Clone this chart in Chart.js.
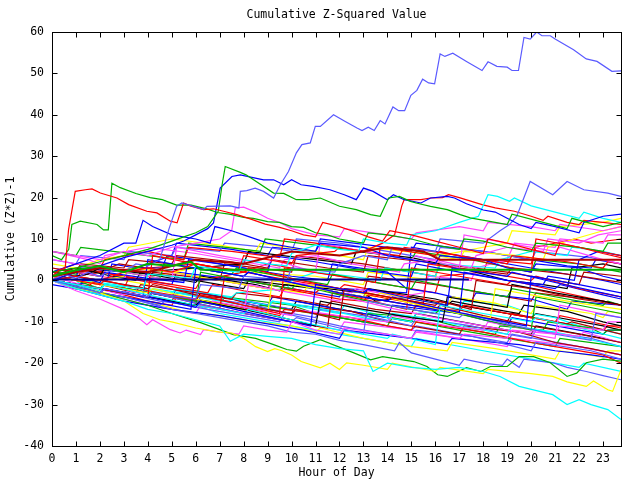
<!DOCTYPE html>
<html><head><meta charset="utf-8">
<script src="https://cdn.jsdelivr.net/npm/chart.js@4"></script>
<style>html,body{margin:0;padding:0;background:#fff}#c{display:block}</style>
</head><body>
<canvas id="c" width="640" height="480"></canvas>
<script>
const titleText = "Cumulative Z-Squared Value";
const xTitle = "Hour of Day";
const yTitle = "Cumulative (Z*Z)-1";
const xTicks = {min: 0, max: 23.75, step: 1};
const yTicks = {min: -40, max: 60, step: 10};

// traced series: [hour, value]
const p1 = [[0,0],[0.5,1.5],[1,0.5],[1.5,2],[2,1],[2.5,2.5],[3,2],[3.5,4],[4,3.5],[4.5,5],[4.87,12.2],[5.2,17.9],[5.42,18.7],[6.33,17.1],[6.47,17.9],[7.44,18],[7.8,17.5],[7.86,21.5],[8.13,21.7],[8.48,22.3],[8.83,21.5],[9.25,19.9],[9.53,23.1],[9.87,26.3],[10.2,30.8],[10.43,32.8],[10.78,33.2],[10.99,37.2],[11.2,37.2],[11.75,40],[12.24,38.4],[12.73,36.8],[12.94,36.2],[13.2,37],[13.45,36.2],[13.7,38.6],[13.9,37.8],[14.23,41.9],[14.47,41],[14.72,41],[14.98,44.7],[15.23,45.9],[15.47,48.6],[15.72,47.7],[15.97,47.5],[16.2,54.7],[16.4,54.1],[16.73,54.9],[17.3,52.9],[17.95,50.7],[18.2,52.8],[18.57,51.7],[19,51.5],[19.2,50.7],[19.47,50.7],[19.7,58.7],[19.96,58.3],[20.23,60],[20.45,59.1],[20.8,59.1],[21,58.3],[21.77,55.7],[22.3,53.5],[22.75,52.9],[23.37,50.5],[23.75,50.6]];
const p2 = [[0,1],[0.3,2.5],[0.55,3],[0.69,12.2],[0.97,21.5],[1.39,21.9],[1.67,22.1],[2.02,21.1],[2.71,19.9],[3.2,18.3],[3.96,16.7],[4.38,16.3],[4.94,14.3],[5.22,13.9],[5.49,18.7],[5.77,18],[6.33,17.1],[6.74,17.3],[7.16,16.7],[7.72,15.9],[8.3,14.8],[8.9,13.6],[9.5,12.8],[10,12],[10.5,11],[11,10.5],[11.3,14],[12,13],[12.6,11.8],[13.2,10.5],[13.8,9.5],[14.1,12],[15,11],[16,9.5],[17,8],[18,6.5],[18.2,10],[19,9],[20,7.5],[21,6],[21.2,9],[22,8],[23,6.5],[23.75,5.5]];
const p3 = [[0,6],[0.4,5],[0.7,7.5],[0.83,13.5],[1.18,14.3],[1.88,13.5],[2.15,12.2],[2.35,12.2],[2.5,23.5],[2.85,22.4],[3.5,21],[4.1,20],[4.6,19.5],[5.2,18.2],[5.8,18.2],[6.5,17.2],[6.9,16.4],[7.4,16],[8,15.2],[8.4,15],[9,14.2],[9.5,14],[10,13],[10.5,12.8],[11,11.5],[11.5,11],[12,10],[12.5,9.5],[13,9],[13.2,11.5],[14,11],[15,10],[16,8.5],[17,7.5],[17.2,10],[18,9.5],[19,8],[20,7],[20.2,9],[22,8],[23,7],[23.2,9],[23.75,9]];
const p4 = [[0,2],[1,3],[2,4.5],[3,6],[4,7.5],[5,9.5],[5.5,10.5],[6,11.5],[6.5,13],[6.94,16.7],[7.1,23.1],[7.23,27.5],[7.86,26.1],[8.1,25.5],[9.25,21.1],[9.67,21],[10.2,19.5],[10.7,19.5],[11.2,19.9],[12,17.9],[12.7,17.1],[13.3,15.9],[13.7,15.5],[14.05,19.9],[14.5,20.3],[14.96,19.1],[15.2,18.7],[15.8,17.9],[16.5,17.1],[17.04,15.9],[17.46,15.1],[18.5,14],[19,13.5],[19.2,16],[20.5,14],[21.5,12.5],[21.7,15],[23,13],[23.75,14]];
const p5 = [[0,0],[1,2],[2,3.5],[3,5.5],[4,7],[5,8.5],[5.5,9.5],[6,11],[6.5,12.5],[6.74,13.9],[7.02,22.3],[7.51,25.1],[7.86,25.5],[8.83,24.3],[9.25,24.3],[9.67,23.1],[10,24.3],[10.4,23.1],[10.9,22.7],[11.6,21.9],[12.2,20.7],[12.7,19.5],[13,22.3],[13.4,21.5],[14,19.5],[14.25,20.7],[14.7,19.5],[15.4,18.7],[15.8,19.9],[16.5,20.3],[16.8,19.9],[17.3,18.5],[18,17],[18.5,16.5],[19,15],[19.5,13.5],[20,12.5],[20.2,14],[21,13],[22,11.5],[22.2,14],[23,15.5],[23.75,16]];
const p6 = [[0,0],[1,-1.5],[2,-3],[2.2,-2],[4,-4],[4.2,-3],[6,-4.5],[6.2,-1],[7.8,-2],[8,1],[9.8,0],[10,3],[11.8,2],[12,4],[13,6],[14,5],[14.2,8],[16,7],[16.2,10],[18,9],[18.7,12],[19.1,13.5],[19.4,15.5],[19.96,23.9],[20.9,20.7],[21.5,23.9],[22.2,21.9],[23.2,21.1],[23.75,20.3]];
const p7 = [[0,0],[1,-1],[2,-2.5],[2.2,-1],[3.8,-2],[4,1.5],[5,1],[5.8,0.5],[6,3.5],[7,2.5],[7.8,2],[8,5],[9,4],[9.8,3.5],[10,6.5],[11,8.5],[12,7.5],[12.8,7],[13,10],[14,9],[14.8,8.5],[15,11],[16,12],[17,14],[17.8,15.5],[18.2,20.7],[18.6,20.3],[19.1,19.1],[19.3,19.9],[20,18],[21,16.5],[22,15],[22.2,16.5],[23,15],[23.75,14]];
const p8 = [[0,0],[1,1],[2,0],[3,2],[4,3],[5,2],[6,4],[7,3],[7.8,2.5],[8,6],[9,5],[10,4],[10.2,6],[11.8,7],[12,8],[13,7],[13.8,9],[14.3,11],[14.6,18],[14.7,19.5],[15.4,19.5],[15.8,19.9],[16.3,20],[16.55,20.7],[17,20],[17.95,18.3],[18.5,17.5],[19.3,16.7],[20,15.5],[20.5,14.5],[20.7,15.5],[21.5,14],[22,13.5],[22.2,14.5],[23,14],[23.75,13.5]];
const p9 = [[0,2],[1,4],[2,6],[3,9],[3.5,9],[3.8,14.5],[4.2,13],[5,11],[6,10],[6.6,9],[6.8,13],[7.5,12],[8,11],[9,9],[10,8],[11,7],[11.2,9],[13,8],[14,6],[15,5],[16,4],[16.2,6],[18,5],[19,3],[20,2],[20.2,4],[22,3],[23,1],[23.75,0]];
const p10 = [[0,7],[1,6],[2,5],[3,7],[4,6],[5,8],[6,9],[7,10],[7.5,12],[7.65,17.5],[8,17.7],[8.5,16.5],[9,15],[9.5,14],[10,12.5],[11,11],[12,10.5],[12.2,12.5],[14,11],[15,10],[15.2,11.5],[17,13],[18,12],[18.2,14],[20,13],[21,12],[21.2,13.5],[23,12],[23.75,13]];
const p11 = [[0,0],[1,-2],[2,-3.5],[3,-5],[4,-7],[5,-8],[6,-9.5],[7,-11],[7.44,-14.7],[8,-13],[9,-13.5],[10,-14],[11,-15.5],[12,-16.5],[13,-17],[13.4,-22],[14,-20],[15,-21],[16,-21.5],[17,-21],[18,-22],[18.7,-23.2],[19.5,-25.6],[20.9,-27.6],[21.5,-30],[22,-28.8],[22.5,-30],[23.2,-31.2],[23.75,-33.6]];
const p12 = [[0,0],[1,-2],[2,-3],[3,-5],[3.8,-8],[4.5,-9.5],[5,-10],[6,-11.5],[7,-12.5],[7.5,-12.7],[8,-14],[8.5,-16],[9,-17.2],[9.3,-16.5],[9.6,-17],[10,-18],[10.4,-19.6],[11.2,-21.1],[11.6,-20],[12,-21.5],[12.3,-19.9],[13,-20.5],[14,-21.5],[14.2,-20],[16,-22],[16.2,-21],[18,-22.5],[18.2,-21.5],[20,-22.5],[20.9,-23.2],[21.5,-24.5],[22.3,-25.6],[22.6,-24.3],[23.2,-26.4],[23.4,-26.8],[23.75,-21.6]];
const p13 = [[0,0],[1,-1.5],[2,-3],[3,-4.5],[4,-6],[5,-8],[6.2,-10.2],[7.57,-13.1],[8.5,-14],[9.25,-15.5],[9.8,-16.7],[10.2,-17.1],[10.5,-15.9],[11.2,-14.3],[12.6,-17.5],[13.3,-19.2],[13.8,-18.4],[15.1,-19.6],[15.65,-20.8],[16.1,-22.8],[16.5,-23.2],[17.3,-21.1],[17.9,-22],[18.3,-20.8],[19,-20.8],[19.5,-18.4],[20.1,-18.4],[20.8,-19.9],[21.5,-23.2],[21.9,-22.4],[22.3,-19.9],[23,-19],[23.75,-19.5]];
const p14 = [[0,0],[1,-2.5],[2,-4.5],[3,-7],[3.6,-9],[3.96,-10.7],[4.2,-9.5],[4.94,-11.9],[5.35,-12.7],[5.6,-12],[6.2,-13.1],[6.33,-11.9],[7,-12.5],[7.8,-13],[8,-11],[9,-12],[9.8,-12.5],[10,-10],[11,-12],[12,-13],[12.2,-11.5],[14,-13],[15,-14],[15.2,-12.5],[17,-14],[17.2,-13],[19,-14],[19.2,-12],[21,-13],[21.2,-11],[23,-12],[23.2,-10],[23.75,-10]];
const p15 = [[0,0],[1,-1],[2,-3],[3,-4],[4,-5.5],[5,-7],[6,-8],[7,-9],[8,-10],[9,-11],[10,-12.5],[11,-13],[12,-14.5],[13,-15.5],[14.3,-17],[14.5,-15],[15,-17.5],[16,-19],[17,-20.5],[17.2,-19],[18,-20],[18.8,-20.5],[19,-19],[19.5,-21],[19.7,-19],[20.9,-19.9],[21.5,-21],[22.3,-22],[23,-23],[23.75,-24]];
const flatGreen = [[0,1],[1,2.5],[2,3.5],[3,2],[4,4],[5,3.5],[5.8,4.5],[6.2,2.6],[23.75,2.6]];
const flatNavy = [[0,0.2],[17.4,0.2]];
const flatDarkRed = [[0,1],[2,3],[4,2],[6,5],[8,4],[10,7],[12,6],[14,8],[15.5,7],[16.2,5],[23.75,5]];

// background series: [hour, value]
const s01=[[0,0],[1.5,-1.5],[1.7,-0.5],[3,-2],[3.2,0.5],[5,-1.5],[6.5,-3],[6.7,-1],[8,-2.5],[9.5,-4],[9.7,-2],[12,-4.5],[13,-5],[13.2,-3.5],[15.5,-6],[17,-7.5],[17.2,-6],[19.5,-8.5],[21,-10],[21.2,-8.5],[23.75,-11.5]];
const s02=[[0,2],[1,1.5],[1.2,3.5],[3,2],[4.5,0.5],[4.7,4],[6.5,2.5],[7.5,1.5],[7.7,3],[10,0.5],[11.5,-1],[11.7,1.5],[14,-1],[15,-2],[15.2,0],[18,-3],[19,-4],[19.2,-2],[21.5,-4.5],[23,-6],[23.2,-5],[23.75,-6]];
const s03=[[0,0],[1,1],[2,-0.5],[2.2,2],[4,0.5],[5.5,-0.5],[5.7,5],[7,4],[9,2],[9.2,6],[11,4.5],[13,2.5],[15,1],[15.2,4],[17,2],[19,0],[20.5,-1],[20.7,1],[21.8,0],[22,5],[22.8,7],[23.75,6]];
const s04=[[0,1],[1.5,-1.5],[3,-3.5],[3.2,-2.5],[5,-5],[6.5,-6.5],[6.7,-5],[8.5,-7],[10,-8.5],[10.2,-7],[12.5,-9],[14,-10],[14.2,-8.5],[16.5,-11],[18,-12],[18.2,-10],[20.5,-12.5],[22,-13.5],[22.2,-12.5],[23.75,-15]];
const s05=[[0,0],[1,-2],[1.2,-1],[3,-3],[4,-4],[4.2,-2],[6,-3.5],[7.5,-5.5],[9,-7],[9.2,-5],[11,-6.5],[13,-9],[14,-10],[14.2,-8],[16,-9.5],[17.5,-11.5],[19,-13],[19.2,-11],[21,-12.5],[23,-15],[23.75,-16]];
const s06=[[0,3],[1,2],[1.2,4],[3,3],[3.2,5],[5,4],[5.2,6],[7.5,4.5],[9,3],[9.2,5],[11.5,3],[13,2],[13.2,6],[15.5,4.5],[17,3],[19,1.5],[19.2,3],[21.5,1.5],[23.75,-0.5]];
const s07=[[0,1],[1.5,-0.5],[3,1],[3.2,3],[5,2],[7,0],[9,-2],[10.5,-3],[10.7,-1],[12.5,-2.5],[13.5,-4],[13.7,-3],[15.5,-5],[16.5,-6],[16.7,-4],[18.5,-5.5],[20,-8],[20.2,-6],[22.5,-8],[23,-9],[23.2,-7.5],[23.75,-8]];
const s08=[[0,0],[1.5,1.5],[2,3],[4,1.5],[6,-0.5],[6.2,1],[8.5,-1],[9.5,-2.5],[9.7,-1],[11.5,-2],[13,-3],[13.5,-5],[15,-4],[16.5,-6],[16.7,-5],[18.5,-7],[19.5,-8],[19.7,-6],[21.5,-7.5],[23,-10],[23.75,-11]];
const s09=[[0,0],[2,-3],[2.2,-2],[4.5,-5],[6,-6],[6.2,-4],[8.5,-6],[9.5,-7.5],[11,-9],[11.2,-7],[13.5,-9],[15,-11],[15.2,-9],[17.5,-11],[19,-13],[20,-14],[20.2,-12],[22.5,-14],[23.75,-16]];
const s10=[[0,2],[1,4],[2,3],[2.2,5],[4,7],[5.5,5],[5.7,8],[7.5,7],[9.5,5.5],[9.7,10],[11,9],[13,7],[14.5,6],[14.7,8],[17,6],[19,4],[19.2,6],[21.5,4.5],[23,3],[23.2,4.5],[23.75,4]];
const s11=[[0,7],[1,6],[1.2,8],[4,6],[5.5,5],[5.7,9],[8,7.5],[8.7,7],[8.9,10],[11,8.5],[13,7],[15,5],[15.2,7],[17.5,5],[20,2],[20.2,5],[22,4],[23.75,2]];
const s12=[[0,1],[1,0],[2.3,0],[2.5,4],[3.5,3],[4.6,3],[4.8,6],[6,5],[8,3],[10,1],[11.5,0],[11.7,4],[14,2],[14.8,-2],[16,-3],[17.5,-5],[17.7,-3],[20,-4.5],[21.5,-7],[21.7,-5],[23.75,-6]];
const s13=[[0,7],[1.5,5],[2,4],[2.2,6],[4,8],[6,6.5],[8,4.5],[9.5,3],[9.7,5],[11,6],[12.5,4],[14.5,2],[14.7,4],[16,5],[17.5,3],[17.7,6],[19,8],[20.5,7],[20.7,10],[22,9],[22.8,11],[23.75,12]];
const s14=[[0,0],[1,-1],[1.2,0],[4,-2],[5,-3],[5.2,-2],[7.5,-4],[7.7,-3],[9.8,-2],[10,0],[11,2],[12.5,1],[13.7,0],[13.9,3],[16,1],[16.2,4],[18.5,3],[18.7,5],[20,7],[21.5,6],[21.7,8],[23,7],[23.75,6]];
const s15=[[0,1],[2,-1],[3.5,-3],[3.7,-1],[6,-3],[7.5,-4.5],[7.7,-3],[10,-4.5],[11.5,-6],[11.7,-5],[13.5,-7],[15,-8],[15.2,-6],[17.5,-8.5],[19,-10],[19.2,-8],[21.5,-10.5],[21.7,-10],[23.75,-13]];
const s16=[[0,4],[1,3],[2,5],[3,6],[3.2,8],[5,10],[7,8.5],[8.5,7],[8.7,9],[11,7],[13,5],[13.2,8],[15.5,6.5],[17,5],[17.2,7],[19.5,6],[20.5,5],[20.7,8],[21.8,10],[23,12],[23.75,13]];
const s17=[[0,2],[1,3],[2.5,1],[3.5,0],[3.7,2],[6,3],[8,4],[8.2,7],[11,5],[12.5,4],[12.7,7],[15,5.5],[17,3],[19,0],[20.5,-1],[21.5,-2],[21.7,3],[23,4],[23.75,3]];
const s18=[[0,0],[1.5,-2.5],[3,-4],[4.5,-6],[4.7,-5],[6.5,-7],[8,-8.5],[9.5,-10],[9.7,-8],[12,-11],[13.5,-12.5],[15,-14],[15.2,-12],[17.5,-13.5],[19,-15.5],[20,-17],[20.2,-15],[22.5,-17],[23.75,-19]];
const s19=[[0,0],[2,-2],[4,-5],[5,-6],[5.2,-4],[7.5,-6],[9.5,-8.5],[9.7,-7],[12.5,-9],[14,-11],[15,-12],[15.2,-10],[18,-12.5],[20,-15],[21,-16],[23,-18],[23.75,-20]];
const s20=[[0,0],[2,-2],[4,-4],[4.2,-3],[6.5,-5],[8.5,-7],[8.7,-6],[12,-9],[13,-10],[13.2,-8],[15.5,-9],[17.5,-12],[18.5,-13],[18.7,-11],[20.5,-12],[20.7,-10],[22.5,-11.5],[23,-13],[23.2,-12],[23.75,-12]];
const s21=[[0,0],[1,-2],[3,-5],[5,-7],[7,-8.5],[9,-10.5],[10.5,-12],[12,-14],[12.2,-12],[15,-14],[16.5,-15.5],[16.7,-14],[19.5,-15.5],[21,-17],[22.5,-18],[23.75,-19]];
const s22=[[0,3],[1.5,1.5],[3,0],[3.2,3],[5.5,1.5],[7,0],[9,-2],[9.2,0],[11.5,-1.5],[12.5,-3],[12.7,-2],[14.5,-4],[15.5,-3],[15.7,1],[17.5,0],[17.7,3],[19,5],[19.3,9],[21,8],[21.2,10],[23,9],[23.2,11],[23.75,11]];
const s23=[[0,2],[2,0],[3.5,-1.5],[5,-4],[5.2,-3],[7,-5],[7.2,-4],[9,-6],[9.2,-5],[11,-7],[12,-8],[12.2,-6],[14,-9],[15,-10],[15.2,-8],[17,-7],[17.2,-5],[19,-6],[20,-8],[21,-9],[22,-11],[23,-12],[23.75,-13]];
const s24=[[0,0],[1,-2],[1.2,-1],[4,-4],[5,-5],[5.2,-3],[7.5,-4.5],[9,-7],[10,-8],[10.2,-6],[12.5,-7.5],[14,-10],[16,-12],[17,-13],[17.2,-11],[19.5,-12.5],[21,-15],[22.5,-16.5],[23.75,-18]];
const s25=[[0,0],[1,-1],[2.5,-3.5],[4,-5],[5.5,-7.5],[7,-8.5],[8.5,-10],[10,-11],[11,-12.5],[11.2,-11.5],[13,-14],[15,-16],[16.5,-17],[16.7,-15],[18.5,-16.5],[20,-18],[21,-19],[21.2,-17],[23,-18.5],[23.2,-17],[23.75,-17]];
const s26=[[0,0],[1,2],[2,1],[2.2,3],[5,1],[7,-1],[8,-2],[8.2,0],[11,-2],[13,-4],[13.2,-2],[16,-4.5],[17,-6],[19,-8],[20,-9],[20.2,-8],[23,-11],[23.75,-12]];
const s27=[[0,5],[1,4],[1.2,6],[3,5],[3.2,7],[5,6],[5.2,8],[7,7],[7.2,9],[9,8],[10,7],[10.2,10],[12,9],[14,7],[16,5],[16.2,8],[18,7],[20,5],[20.2,7],[22.5,5.5],[23.75,4]];
const s28=[[0,0],[1,1],[2,2],[4,0],[6,-2],[6.2,0],[8,2],[9,4],[10.5,2.5],[12,1],[13.5,-0.5],[16,-3],[16.2,1],[18,2],[18.2,5],[20,4],[20.2,8],[21.8,10],[22.5,9],[23.75,10]];
const s29=[[0,2],[1,1],[1.2,3],[3,2],[4,4],[5,6],[5.2,9],[7.5,7.5],[9,6],[9.2,8],[11,7],[11.2,10],[14,8],[15,7],[15.2,9],[18,7],[20,5],[21.5,3.5],[22.5,3],[22.7,5],[23.75,4]];
const s30=[[0,1],[1,3],[2,2],[4,0],[4.2,2],[7,0],[9,-2],[9.2,0],[12,-2],[13,-3],[13.2,1],[16,-1],[18,-3],[20,-5],[20.2,-3],[23,-5],[23.75,-6]];
const s31=[[0,0],[1,-2],[2,-3],[4,-6],[5,-7],[6,-8],[6.2,-6],[9,-9],[11,-11],[12,-12],[12.2,-10],[15,-12],[17,-14],[19,-16],[19.2,-14],[22,-16],[23.75,-18]];
const s32=[[0,1],[1,0],[2,-2],[2.2,-1],[5,-4],[7,-6],[7.2,-4],[10,-6],[11,-8],[13,-10],[14,-11],[14.2,-9],[17,-12],[19,-14],[21,-16],[21.2,-14],[23.75,-16]];
const s33=[[0,0],[2,-2],[4,-4],[6,-6],[7,-8],[9,-10],[11,-12],[13,-14],[15,-16],[15.2,-14],[18,-17],[20,-19],[21,-20],[22,-21],[22.2,-20],[23.75,-22]];
const s34=[[0,0],[2,-2],[2.2,-1],[5,-4],[5.2,-2],[8,-5],[9,-6],[9.2,-4],[12,-7],[14,-9],[14.2,-6],[17,-8],[19,-11],[19.2,-9],[22,-12],[23,-13],[23.2,-12],[23.75,-12]];
const s35=[[0,1],[1,0],[1.2,2],[4,3],[6,4],[7,3],[9,1],[11,-1],[12,-2],[12.2,-1],[15,-4],[17,-6],[19,-8],[21,-10],[23,-12],[23.2,-11],[23.75,-11]];
const s36=[[0,0],[2,-2],[3,-3],[3.2,-2],[6,-5],[8,-7],[8.2,-5],[11,-8],[13,-10],[15,-12],[15.2,-11],[18,-14],[19,-15],[19.2,-13],[22,-16],[23.75,-18]];
const s37=[[0,3],[1,2],[3,0],[4,-1],[4.2,1],[6,3],[8,1],[8.2,2],[11,1],[13,-1],[13.2,2],[16,0],[16.2,6],[18,8],[19,9],[19.2,12],[21,11],[21.2,13],[23,14],[23.75,15]];
const s38=[[0,0],[2,-2],[2.2,-1],[5,-4],[6,-5],[6.2,-3],[9,-6],[10,-7],[10.2,-5],[13,-8],[15,-10],[15.2,-8],[18,-11],[20,-13],[20.2,-11],[23,-14],[23.75,-15]];
const s39=[[0,0],[1,1],[2,2],[2.8,4],[5,2],[7,0],[7.2,4],[10,2],[10.2,6],[13,4],[15,2],[16,1],[16.2,4],[19,2],[21,0],[22,-1],[22.2,2],[23.75,1]];
const s40=[[0,0],[1,-1],[2.8,1],[5,-1],[5.2,2],[8,0],[10,-2],[12,-4],[12.2,-2],[14.8,-3],[15,8],[16,7],[18,5],[20,3],[22,1],[23,0],[23.75,-1]];
const s41=[[0,0],[2,-3],[2.2,-2],[4,-4],[6,-6.5],[6.2,-5],[8,-7.5],[10,-10],[10.8,-11],[11,-1],[13,-3],[13.2,-2],[15,-4.5],[16.5,-6],[16.7,3],[19,1],[19.2,2],[21,-0.5],[23.75,-4]];
const s42=[[0,1],[2,-1],[2.2,0],[4,-2.5],[6,-4.5],[6.2,-3.5],[8,-6],[9.5,-8],[9.7,3],[12,1],[13.5,-0.5],[13.7,8],[16,6],[16.2,7],[18,4.5],[20,2],[20.2,10],[22,8],[23.75,6]];
const s43=[[0,2],[2,0],[4,-2],[4.2,-1],[6,-3.5],[8,-6],[10,-8],[10.2,-7],[12,-9.5],[12.2,-2],[14,-4],[16,-6],[16.2,-5],[17.5,-7],[17.7,0],[20,-2],[22,-4.5],[23.75,-6]];
const s44=[[0,-1],[2,-3],[4,-5],[5.8,-7],[6,3],[8,1],[8.2,2],[10,-0.5],[12,-3],[14,-5],[14.2,-4],[16,-6.5],[18,-9],[19.8,-11],[20,1],[22,-1],[23.75,-3]];
const s45=[[0,5],[2,3],[4,1],[5,0],[5.2,8],[7,6],[9,4],[9.2,5],[11,2],[11.2,9],[13,7],[15,5],[15.2,6],[17,3],[17.2,11],[19,9],[21,7],[21.2,8],[23,5],[23.75,4]];
const s46=[[0,0],[2,-2],[2.2,-1],[4,-3.5],[6,-6],[8,-8],[8.2,-7],[10,-9.5],[12,-12],[14,-14],[14.2,-13],[16,-15.5],[16.2,-6],[18,-8],[20,-10],[20.2,-9],[22,-11.5],[23.75,-14]];
const s47=[[0,0],[2,-2],[4,-4],[4.2,6],[6,4],[8,2],[8.2,3],[10,0.5],[12,-2],[14,-4],[15.5,-5.5],[15.7,4],[18,2],[20,0],[20.2,1],[22,-2],[23.75,-4]];
const s48=[[0,0],[2,-2],[4,-4],[6,-6],[6.2,-5],[8,-7],[10,-9.5],[11,-11],[11.2,-5],[13,-7],[15,-9],[16.3,-10],[16.5,-4],[18,-5.5],[19,-6.5],[19.2,-1],[21,-3],[23,-5],[23.75,-6]];
const s49=[[0,1],[2,-1],[4,-3],[4.2,-2],[6,-4.5],[8,-7],[9,-8],[9.2,0],[11,-2],[13,-4],[13.2,-3],[15,-5.5],[17,-8],[18.3,-9],[18.5,-2],[20,-3.5],[22,-5.5],[23.75,-7]];
const s50=[[0,0],[2,-2],[4,-4],[4.2,-3],[6,-5.5],[8,-8],[10,-10],[10.2,-9],[12,-11.5],[13,-13],[13.2,-5],[15,-7],[17,-9],[17.2,-8],[19,-10.5],[21,-13],[22.5,-14.5],[22.7,-8],[23.75,-9]];
const s51=[[0,0],[2,-2],[4,-4],[6,-6],[6.2,2],[8,0],[10,-2],[10.2,-1],[12,-3.5],[14,-6],[16,-8],[16.2,-7],[18,-9.5],[20,-12],[20.2,-4],[22,-6],[23.75,-8]];
const s52=[[0,0],[2,-2],[3.8,-4],[4,5],[6,3],[8,1],[8.2,2],[10,-0.5],[12,-3],[14,-5],[16,-7],[17,-8],[17.2,2],[19,0],[21,-2],[21.2,-1],[23,-3.5],[23.75,-4.5]];
const s53=[[0,0],[2,-2],[4,-4],[6,-6],[8,-8],[8.2,-1],[10,-3],[12,-5],[12.2,-4],[14,-6.5],[16,-9],[18,-11],[20,-13],[21,-14],[21.2,-6],[23.75,-9]];
const s54=[[0,0],[2,-2],[4,-4],[6,-6],[7,-7],[7.2,1],[9,-1],[11,-3],[11.2,-2],[13,-4.5],[14.8,-7],[15,3],[17,1],[19,-1],[19.2,0],[21,-2.5],[23,-5],[23.75,-6]];
const s55=[[0,0],[2,-2],[4,-4],[4.2,-3],[6,-5.5],[8,-8],[10,-10],[11.5,-11.5],[11.7,-3],[14,-5],[16,-7],[16.2,-6],[18,-8.5],[20,-11],[22,-13],[23.75,-15]];

const COL = {red:'#ff0000', green:'#00b000', blue:'#0000ff', magenta:'#ff44ff', cyan:'#00ffff',
  darkred:'#b00000', yellow:'#ffff00', black:'#000000', lightblue:'#5a5aff', navy:'#000090'};

const traced = [
  [flatGreen,'green',2],[flatNavy,'navy',2],[flatDarkRed,'darkred',2],
  [p1,'lightblue',1.2],[p2,'red',1.2],[p3,'green',1.2],[p4,'green',1.2],[p5,'blue',1.2],
  [p6,'lightblue',1.2],[p7,'cyan',1.2],[p8,'red',1.2],[p9,'blue',1.2],[p10,'magenta',1.2],
  [p11,'cyan',1.2],[p12,'yellow',1.2],[p13,'green',1.2],[p14,'magenta',1.2],[p15,'lightblue',1.2],
  [s41,'blue',1.2],[s42,'red',1.2],[s43,'darkred',1.2],[s44,'blue',1.2],[s45,'magenta',1.2],[s46,'cyan',1.2],[s47,'red',1.2],[s48,'black',1.2],
  [s49,'yellow',1.2],[s50,'lightblue',1.2],[s51,'green',1.2],[s52,'blue',1.2],[s53,'magenta',1.2],[s54,'red',1.2],[s55,'darkred',1.2],
  [s01,'red',1.2],[s02,'green',1.2],[s03,'blue',1.2],[s04,'magenta',1.2],[s05,'cyan',1.2],[s06,'darkred',1.2],[s07,'yellow',1.2],[s08,'black',1.2],[s09,'lightblue',1.2],
  [s10,'red',1.2],[s11,'green',1.2],[s12,'blue',1.2],[s13,'magenta',1.2],[s14,'cyan',1.2],[s15,'darkred',1.2],[s16,'yellow',1.2],[s17,'black',1.2],[s18,'lightblue',1.2],
  [s19,'red',1.2],[s20,'green',1.2],[s21,'blue',1.2],[s22,'magenta',1.2],[s23,'cyan',1.2],[s24,'darkred',1.2],[s25,'yellow',1.2],[s26,'black',1.2],[s27,'lightblue',1.2],
  [s28,'red',1.2],[s29,'blue',1.2],[s30,'darkred',1.2],[s31,'magenta',1.2],[s32,'green',1.2],[s33,'cyan',1.2],[s34,'blue',1.2],[s35,'red',1.2],[s36,'lightblue',1.2],
  [s37,'yellow',1.2],[s38,'black',1.2],[s39,'darkred',1.2],[s40,'blue',1.2]
];

const datasets = traced.map(([pts,c,w]) => ({
  data: pts.map(([h,v]) => ({x:h, y:v})), borderColor: COL[c], borderWidth: w,
  pointRadius: 0, tension: 0, fill: false
}));

const FONT = '11.5px "DejaVu Sans Mono", monospace';

const frame = {
  id: 'frame',
  afterDraw(chart) {
    const {ctx, chartArea: a, scales: {x, y}} = chart;
    ctx.save();
    ctx.strokeStyle = '#000'; ctx.lineWidth = 1;
    const L = Math.round(a.left) + 0.5, R = Math.round(a.right) + 0.5,
          T = Math.round(a.top) + 0.5, B = Math.round(a.bottom) + 0.5;
    ctx.beginPath();
    x.ticks.forEach(t => { const p = Math.round(x.getPixelForValue(t.value)) + 0.5;
      ctx.moveTo(p, B); ctx.lineTo(p, B - 5); ctx.moveTo(p, T); ctx.lineTo(p, T + 5); });
    y.ticks.forEach(t => { const p = Math.round(y.getPixelForValue(t.value)) + 0.5;
      ctx.moveTo(L, p); ctx.lineTo(L + 5, p); ctx.moveTo(R, p); ctx.lineTo(R - 5, p); });
    ctx.stroke();
    ctx.strokeRect(L, T, R - L, B - T);
    ctx.fillStyle = '#000'; ctx.font = FONT; ctx.textAlign = 'center'; ctx.textBaseline = 'middle';
    const cx = (a.left + a.right) / 2;
    ctx.fillText(titleText, cx, 15.5);
    ctx.fillText(xTitle, cx, 473);
    ctx.translate(11, (a.top + a.bottom) / 2);
    ctx.rotate(-Math.PI / 2);
    ctx.fillText(yTitle, 0, 0);
    ctx.restore();
  }
};

new Chart(document.getElementById('c'), {
  type: 'line',
  data: { datasets },
  plugins: [frame],
  options: {
    responsive: false, animation: false, devicePixelRatio: 1,
    layout: { padding: { top: 32, right: 19, left: 0, bottom: 0 } },
    plugins: { legend: { display: false }, tooltip: { enabled: false }, title: { display: false } },
    scales: {
      x: {
        type: 'linear', min: xTicks.min, max: xTicks.max,
        grid: { display: false, drawTicks: false }, border: { display: false },
        ticks: { stepSize: xTicks.step, includeBounds: false, autoSkip: false, maxRotation: 0,
          padding: 6, color: '#000', font: { family: '"DejaVu Sans Mono", monospace', size: 11.5 } },
        afterFit: s => { s.height = 34; }
      },
      y: {
        type: 'linear', min: yTicks.min, max: yTicks.max,
        grid: { display: false, drawTicks: false }, border: { display: false },
        ticks: { stepSize: yTicks.step, includeBounds: false, padding: 8, color: '#000',
          font: { family: '"DejaVu Sans Mono", monospace', size: 11.5 } },
        afterFit: s => { s.width = 52; }
      }
    }
  }
});
</script>
</body></html>
